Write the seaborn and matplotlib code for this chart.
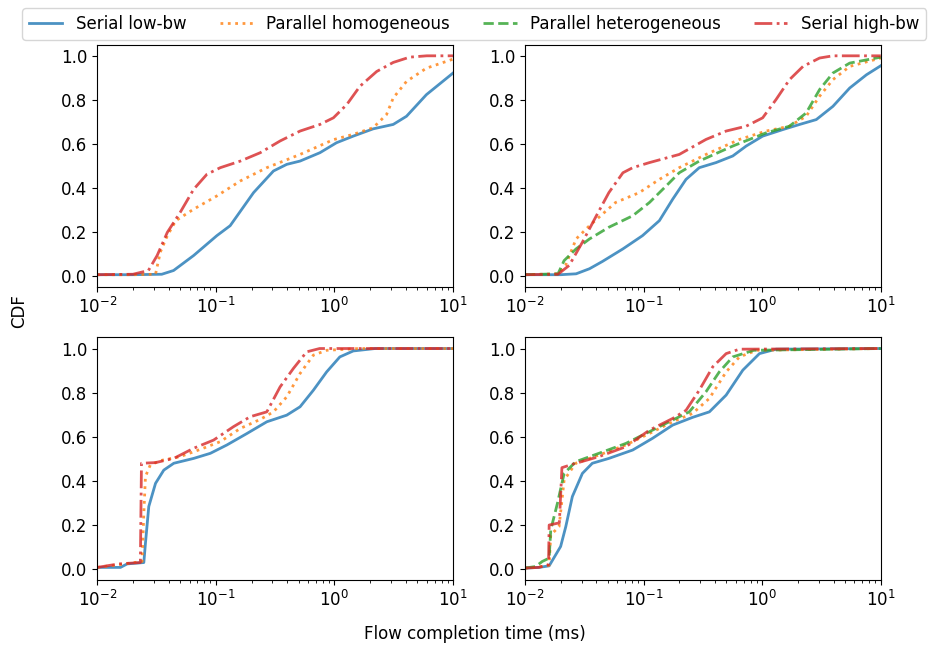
import numpy as np
import pandas as pd
import seaborn as sns
import matplotlib
matplotlib.use("Agg")
import matplotlib.pyplot as plt

plt.rc("font", size=12)

labels = ["Serial low-bw", "Parallel homogeneous", "Parallel heterogeneous", "Serial high-bw"]
colors = ["#1f77b4", "#ff7f0e", "#2ca02c", "#d62728"]
styles = ["-", ":", "--", "-."]

# top left panel
a_low_t = [0.01, 0.02, 0.035, 0.044, 0.065, 0.102, 0.132, 0.208, 0.306, 0.396, 0.513, 0.755, 1.04, 1.44, 2.12, 3.13, 4.05, 5.96, 10]
a_low_cdf = [0.008, 0.008, 0.01, 0.027, 0.095, 0.185, 0.23, 0.38, 0.478, 0.508, 0.523, 0.561, 0.606, 0.636, 0.669, 0.689, 0.726, 0.824, 0.922]
a_hom_t = [0.01, 0.02, 0.031, 0.034, 0.039, 0.046, 0.065, 0.102, 0.161, 0.269, 0.513, 0.98, 1.44, 2.12, 2.75, 3.13, 4.05, 5.96, 10]
a_hom_cdf = [0.008, 0.008, 0.01, 0.11, 0.185, 0.253, 0.305, 0.365, 0.433, 0.493, 0.553, 0.62, 0.644, 0.674, 0.734, 0.809, 0.884, 0.944, 0.985]
a_high_t = [0.01, 0.02, 0.027, 0.032, 0.039, 0.05, 0.065, 0.084, 0.109, 0.161, 0.237, 0.348, 0.513, 0.755, 0.98, 1.27, 1.64, 2.27, 3.13, 4.31, 6.0, 10]
a_high_cdf = [0.008, 0.01, 0.027, 0.095, 0.2, 0.29, 0.395, 0.463, 0.493, 0.523, 0.561, 0.614, 0.659, 0.689, 0.719, 0.779, 0.862, 0.929, 0.97, 0.994, 1.0, 1.0]

# top right panel
b_low_t = [0.01, 0.02, 0.027, 0.035, 0.045, 0.067, 0.098, 0.136, 0.176, 0.228, 0.295, 0.408, 0.565, 0.733, 1.01, 1.5, 2.07, 2.86, 3.95, 5.47, 7.57, 10]
b_low_cdf = [0.008, 0.008, 0.012, 0.035, 0.068, 0.125, 0.185, 0.253, 0.35, 0.44, 0.493, 0.516, 0.546, 0.591, 0.636, 0.666, 0.689, 0.711, 0.771, 0.854, 0.914, 0.955]
b_hom_t = [0.01, 0.019, 0.022, 0.027, 0.035, 0.042, 0.058, 0.092, 0.136, 0.2, 0.336, 0.643, 1.08, 1.7, 2.35, 3.05, 3.95, 5.47, 10]
b_hom_cdf = [0.008, 0.012, 0.05, 0.17, 0.23, 0.268, 0.335, 0.38, 0.44, 0.493, 0.553, 0.621, 0.659, 0.681, 0.726, 0.817, 0.892, 0.952, 0.99]
b_het_t = [0.01, 0.019, 0.0214, 0.027, 0.035, 0.051, 0.081, 0.112, 0.155, 0.2, 0.295, 0.565, 1.08, 1.7, 2.35, 3.05, 3.95, 5.47, 10]
b_het_cdf = [0.008, 0.012, 0.072, 0.125, 0.17, 0.223, 0.275, 0.335, 0.41, 0.47, 0.523, 0.591, 0.651, 0.681, 0.741, 0.847, 0.922, 0.967, 0.994]
b_high_t = [0.01, 0.019, 0.0236, 0.0305, 0.04, 0.051, 0.067, 0.081, 0.112, 0.2, 0.336, 0.497, 0.733, 1.01, 1.31, 1.7, 2.21, 3.05, 3.95, 10]
b_high_cdf = [0.008, 0.01, 0.05, 0.155, 0.275, 0.38, 0.47, 0.493, 0.516, 0.553, 0.621, 0.659, 0.681, 0.719, 0.802, 0.892, 0.952, 0.99, 1.0, 1.0]

# bottom left panel
c_low_t = [0.01, 0.0157, 0.0179, 0.0247, 0.0255, 0.0272, 0.031, 0.0364, 0.0442, 0.065, 0.0898, 0.124, 0.183, 0.269, 0.396, 0.513, 0.664, 0.859, 1.11, 1.44, 2.2, 10]
c_low_cdf = [0.008, 0.008, 0.024, 0.03, 0.118, 0.284, 0.389, 0.449, 0.48, 0.502, 0.525, 0.563, 0.615, 0.668, 0.698, 0.736, 0.811, 0.894, 0.962, 0.989, 1.0, 1.0]
c_hom_t = [0.01, 0.0152, 0.0239, 0.0247, 0.0255, 0.028, 0.034, 0.05, 0.074, 0.109, 0.161, 0.237, 0.306, 0.396, 0.513, 0.664, 0.859, 1.6, 10]
c_hom_cdf = [0.008, 0.02, 0.035, 0.253, 0.42, 0.472, 0.492, 0.51, 0.543, 0.578, 0.638, 0.679, 0.713, 0.781, 0.887, 0.97, 0.992, 1.0, 1.0]
c_high_t = [0.01, 0.0152, 0.0231, 0.0236, 0.031, 0.0442, 0.065, 0.0957, 0.141, 0.195, 0.269, 0.348, 0.451, 0.583, 0.75, 10]
c_high_cdf = [0.008, 0.024, 0.03, 0.48, 0.483, 0.502, 0.548, 0.585, 0.646, 0.691, 0.713, 0.826, 0.91, 0.985, 1.0, 1.0]

# bottom right panel
d_low_t = [0.01, 0.0131, 0.016, 0.02, 0.0221, 0.0251, 0.0305, 0.037, 0.051, 0.081, 0.119, 0.176, 0.259, 0.359, 0.497, 0.687, 0.949, 1.31, 10]
d_low_cdf = [0.005, 0.008, 0.015, 0.103, 0.193, 0.329, 0.434, 0.48, 0.502, 0.54, 0.593, 0.653, 0.688, 0.713, 0.789, 0.902, 0.977, 0.997, 1.0]
d_hom_t = [0.01, 0.0123, 0.016, 0.0165, 0.0194, 0.0214, 0.0268, 0.042, 0.071, 0.112, 0.176, 0.259, 0.359, 0.497, 0.643, 0.9, 10]
d_hom_cdf = [0.005, 0.008, 0.018, 0.155, 0.193, 0.404, 0.48, 0.517, 0.563, 0.615, 0.668, 0.706, 0.774, 0.894, 0.962, 0.992, 1.0]
d_het_t = [0.01, 0.0123, 0.014, 0.016, 0.0165, 0.0188, 0.0214, 0.0268, 0.042, 0.071, 0.112, 0.176, 0.243, 0.336, 0.435, 0.565, 0.85, 10]
d_het_cdf = [0.005, 0.012, 0.035, 0.05, 0.178, 0.299, 0.434, 0.487, 0.525, 0.57, 0.623, 0.676, 0.713, 0.804, 0.894, 0.962, 0.992, 1.0]
d_high_t = [0.01, 0.0131, 0.0158, 0.016, 0.0195, 0.0205, 0.025, 0.042, 0.071, 0.112, 0.176, 0.228, 0.295, 0.383, 0.497, 0.643, 10]
d_high_cdf = [0.005, 0.008, 0.02, 0.2, 0.21, 0.46, 0.475, 0.51, 0.555, 0.63, 0.683, 0.72, 0.811, 0.917, 0.977, 0.997, 1.0]

panels = [
    {0: (a_low_t, a_low_cdf), 1: (a_hom_t, a_hom_cdf), 3: (a_high_t, a_high_cdf)},
    {0: (b_low_t, b_low_cdf), 1: (b_hom_t, b_hom_cdf), 2: (b_het_t, b_het_cdf), 3: (b_high_t, b_high_cdf)},
    {0: (c_low_t, c_low_cdf), 1: (c_hom_t, c_hom_cdf), 3: (c_high_t, c_high_cdf)},
    {0: (d_low_t, d_low_cdf), 1: (d_hom_t, d_hom_cdf), 2: (d_het_t, d_het_cdf), 3: (d_high_t, d_high_cdf)},
]

fig, axes = plt.subplots(2, 2, figsize=(9.35, 6.49), dpi=100)
plt.subplots_adjust(left=0.104, right=0.942, top=0.931, bottom=0.106, wspace=0.202, hspace=0.206)

for ax, panel in zip(axes.flat, panels):
    for k, (t, cdf) in panel.items():
        sns.lineplot(x=t, y=cdf, ax=ax, color=colors[k], linestyle=styles[k],
                     lw=2, alpha=0.8, label=labels[k], estimator=None, sort=False)
    ax.set_xscale("log")
    ax.set_xlim(0.01, 10)
    ax.set_ylim(-0.05, 1.05)
    ax.set_xlabel("")
    ax.set_ylabel("")
    ax.get_legend().remove()

handles, labs = axes[0, 1].get_legend_handles_labels()
fig.legend(handles, labs, loc="upper center", bbox_to_anchor=(0.507, 1.0), ncol=4, fontsize=12)
fig.text(0.02, 0.52, "CDF", rotation=90, va="center", ha="center")
fig.text(0.508, 0.023, "Flow completion time (ms)", ha="center", va="center")

plt.savefig("out.png")
